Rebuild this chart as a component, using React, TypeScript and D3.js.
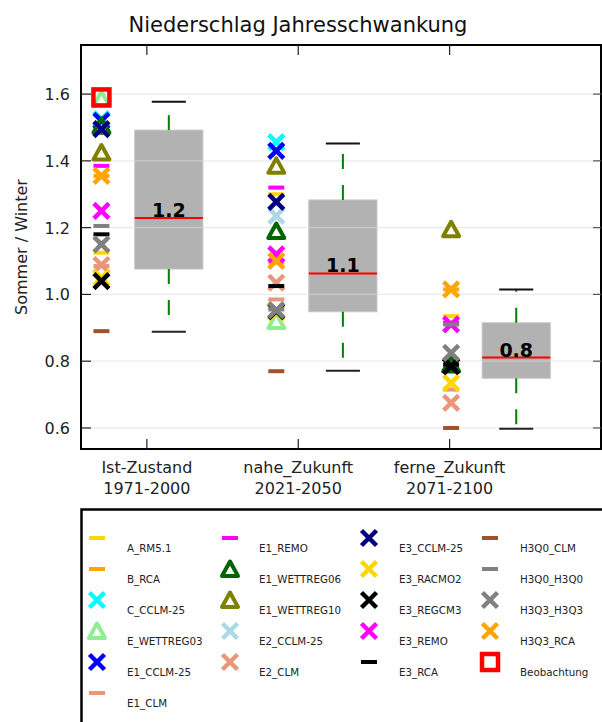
import React from "react";
import * as d3 from "d3";

// periods on the x axis
const periods = ["Ist-Zustand", "nahe_Zukunft", "ferne_Zukunft"];
const periodYears = ["1971-2000", "2021-2050", "2071-2100"];

// models in legend / drawing order
const models = [
  "A_RM5.1", "B_RCA", "C_CCLM-25", "E_WETTREG03", "E1_CCLM-25", "E1_CLM",
  "E1_REMO", "E1_WETTREG06", "E1_WETTREG10", "E2_CCLM-25", "E2_CLM",
  "E3_CCLM-25", "E3_RACMO2", "E3_REGCM3", "E3_REMO", "E3_RCA",
  "H3Q0_CLM", "H3Q0_H3Q0", "H3Q3_H3Q3", "H3Q3_RCA", "Beobachtung",
];
const markerShapes = [
  "_", "_", "x", "^", "x", "_",
  "_", "^", "^", "x", "x",
  "x", "x", "x", "x", "_",
  "_", "_", "x", "x", "s",
];
const modelColors = [
  "#FFD700", "#FFA500", "#00FFFF", "#90EE90", "#0000FF", "#E9967A",
  "#FF00FF", "#006400", "#808000", "#ADD8E6", "#E9967A",
  "#000080", "#FFD700", "#000000", "#FF00FF", "#000000",
  "#A0522D", "#808080", "#808080", "#FFA500", "#FF0000",
];

// Sommer / Winter ratio per model and period (null = no value)
const istZustand = [
  1.125, 1.355, 1.525, 1.585, 1.52, 1.085,
  1.385, 1.505, 1.425, 1.495, 1.088,
  1.495, 1.05, 1.04, 1.25, 1.18,
  0.89, 1.205, 1.15, 1.355, 1.59,
];
const naheZukunft = [
  1.3, 1.095, 1.456, 0.92, 1.43, 0.985,
  1.32, 1.19, 1.385, 1.235, 1.035,
  1.277, 0.945, 0.95, 1.12, 1.025,
  0.77, 0.955, 0.953, 1.1, null,
];
const ferneZukunft = [
  0.935, 1.015, null, null, null, 0.715,
  0.915, 0.79, 1.195, null, 0.675,
  0.785, 0.735, 0.785, 0.91, 0.79,
  0.6, 0.91, 0.825, 1.015, null,
];

// box plot statistics per period
const boxQ1 = [1.076, 0.948, 0.749];
const boxMedian = [1.229, 1.063, 0.811];
const boxQ3 = [1.492, 1.283, 0.915];
const whiskerLow = [0.888, 0.771, 0.598];
const whiskerHigh = [1.577, 1.452, 1.015];
const boxLabels = ["1.2", "1.1", "0.8"];

const yTicks = [0.6, 0.8, 1.0, 1.2, 1.4, 1.6];

const W = 602;
const H = 722;
const FONT = "DejaVu Sans, Verdana, sans-serif";

const plot = { left: 81, right: 601, top: 45, bottom: 449 };

const x = d3.scaleLinear().domain([0.565, 4.0]).range([plot.left, plot.right]);
const y = d3.scaleLinear().domain([0.537, 1.747]).range([plot.bottom, plot.top]);

const tickPos = [1, 2, 3];
const markerPos = [0.7, 1.855, 3.01];
const boxPos = [1.145, 2.295, 3.44];
const boxWidth = 0.45;

function Marker({ shape, color, cx, cy }: { shape: string; color: string; cx: number; cy: number }) {
  if (shape === "_") {
    return <line x1={cx - 8} x2={cx + 8} y1={cy} y2={cy} stroke={color} strokeWidth={4} />;
  }
  if (shape === "x") {
    const s = 7.5;
    return (
      <path
        d={`M${cx - s},${cy - s}L${cx + s},${cy + s}M${cx - s},${cy + s}L${cx + s},${cy - s}`}
        stroke={color}
        strokeWidth={4.5}
        fill="none"
      />
    );
  }
  if (shape === "^") {
    return (
      <path
        d={`M${cx},${cy - 7.5}L${cx + 8},${cy + 7}L${cx - 8},${cy + 7}Z`}
        stroke={color}
        strokeWidth={4}
        strokeLinejoin="round"
        fill="none"
      />
    );
  }
  return <rect x={cx - 8} y={cy - 8} width={16} height={16} stroke={color} strokeWidth={4.5} fill="none" />;
}

export default function App() {
  const series = [istZustand, naheZukunft, ferneZukunft];
  const legendCols = [
    { marker: 97, text: 127, items: [0, 1, 2, 3, 4, 5] },
    { marker: 230, text: 259, items: [6, 7, 8, 9, 10] },
    { marker: 369, text: 399, items: [11, 12, 13, 14, 15] },
    { marker: 490, text: 520, items: [16, 17, 18, 19, 20] },
  ];

  return (
    <svg
      width={W}
      height={H}
      style={{ position: "absolute", left: 0, top: 0, background: "#fff" }}
      fontFamily={FONT}
    >
      <text x={298} y={32} textAnchor="middle" fontSize={21} fill="#111">
        Niederschlag Jahresschwankung
      </text>

      {/* boxes */}
      {boxPos.map((p, i) => (
        <rect
          key={"b" + i}
          x={x(p - boxWidth / 2)}
          y={y(boxQ3[i])}
          width={x(p + boxWidth / 2) - x(p - boxWidth / 2)}
          height={y(boxQ1[i]) - y(boxQ3[i])}
          fill="#b2b2b2"
          stroke="#c4c4c4"
          strokeWidth={1}
        />
      ))}

      {/* grid */}
      {yTicks.map((t) => (
        <line
          key={"g" + t}
          x1={plot.left}
          x2={plot.right}
          y1={y(t)}
          y2={y(t)}
          stroke="#dcdcdc"
          strokeOpacity={0.6}
          strokeWidth={1.2}
        />
      ))}

      {/* whiskers, caps, medians */}
      {boxPos.map((p, i) => {
        const cx = x(p);
        const capHalf = (x(p + boxWidth / 4) - x(p - boxWidth / 4)) / 2;
        const halfW = (x(p + boxWidth / 2) - x(p - boxWidth / 2)) / 2;
        return (
          <g key={"w" + i}>
            <line x1={cx} x2={cx} y1={y(boxQ3[i])} y2={y(whiskerHigh[i])} stroke="#008000" strokeWidth={2} strokeDasharray="15,16" />
            <line x1={cx} x2={cx} y1={y(boxQ1[i])} y2={y(whiskerLow[i])} stroke="#008000" strokeWidth={2} strokeDasharray="15,16" />
            <line x1={cx - capHalf} x2={cx + capHalf} y1={y(whiskerHigh[i])} y2={y(whiskerHigh[i])} stroke="#111" strokeWidth={2} />
            <line x1={cx - capHalf} x2={cx + capHalf} y1={y(whiskerLow[i])} y2={y(whiskerLow[i])} stroke="#222" strokeWidth={2} />
            <line x1={cx - halfW} x2={cx + halfW} y1={y(boxMedian[i])} y2={y(boxMedian[i])} stroke="#ff0000" strokeWidth={2} />
            <text x={cx} y={y(boxMedian[i]) - 1} textAnchor="middle" fontSize={19} fontWeight="bold" fill="#000">
              {boxLabels[i]}
            </text>
          </g>
        );
      })}

      {/* model markers */}
      {series.map((vals, gi) =>
        vals.map((v, mi) =>
          v == null ? null : (
            <Marker key={`m${gi}-${mi}`} shape={markerShapes[mi]} color={modelColors[mi]} cx={x(markerPos[gi])} cy={y(v)} />
          )
        )
      )}

      {/* spines */}
      <rect
        x={plot.left}
        y={plot.top}
        width={plot.right - plot.left}
        height={plot.bottom - plot.top}
        fill="none"
        stroke="#000"
        strokeWidth={2}
      />

      {/* y ticks */}
      {yTicks.map((t) => (
        <g key={"yt" + t}>
          <line x1={plot.left} x2={plot.left + 10} y1={y(t)} y2={y(t)} stroke="#222" strokeWidth={1.2} />
          <line x1={plot.right - 8} x2={plot.right} y1={y(t)} y2={y(t)} stroke="#555" strokeWidth={1.2} />
          <text x={70} y={y(t) + 6} textAnchor="end" fontSize={16} fill="#222">
            {d3.format(".1f")(t)}
          </text>
        </g>
      ))}

      {/* x ticks and labels */}
      {tickPos.map((p, i) => (
        <g key={"xt" + i}>
          <line x1={x(p)} x2={x(p)} y1={plot.top} y2={plot.top + 10} stroke="#222" strokeWidth={1.2} />
          <line x1={x(p)} x2={x(p)} y1={plot.bottom} y2={plot.bottom - 10} stroke="#222" strokeWidth={1.2} />
          <text x={x(p)} y={473} textAnchor="middle" fontSize={16} fill="#222">
            {periods[i]}
          </text>
          <text x={x(p)} y={494} textAnchor="middle" fontSize={16} fill="#222">
            {periodYears[i]}
          </text>
        </g>
      ))}

      <text
        transform={`translate(27,${(plot.top + plot.bottom) / 2}) rotate(-90)`}
        textAnchor="middle"
        fontSize={16}
        fill="#222"
      >
        Sommer / Winter
      </text>

      {/* legend */}
      <rect x={81.5} y={509.5} width={560} height={260} fill="#fff" stroke="#000" strokeWidth={2.5} />
      {legendCols.map((col, ci) =>
        col.items.map((mi, ri) => {
          const my = 538 + ri * 31;
          return (
            <g key={`l${ci}-${ri}`}>
              <Marker shape={markerShapes[mi]} color={modelColors[mi]} cx={col.marker} cy={my} />
              <text x={col.text} y={my + 13.5} fontSize={10.3} fill="#222">
                {models[mi]}
              </text>
            </g>
          );
        })
      )}
    </svg>
  );
}
